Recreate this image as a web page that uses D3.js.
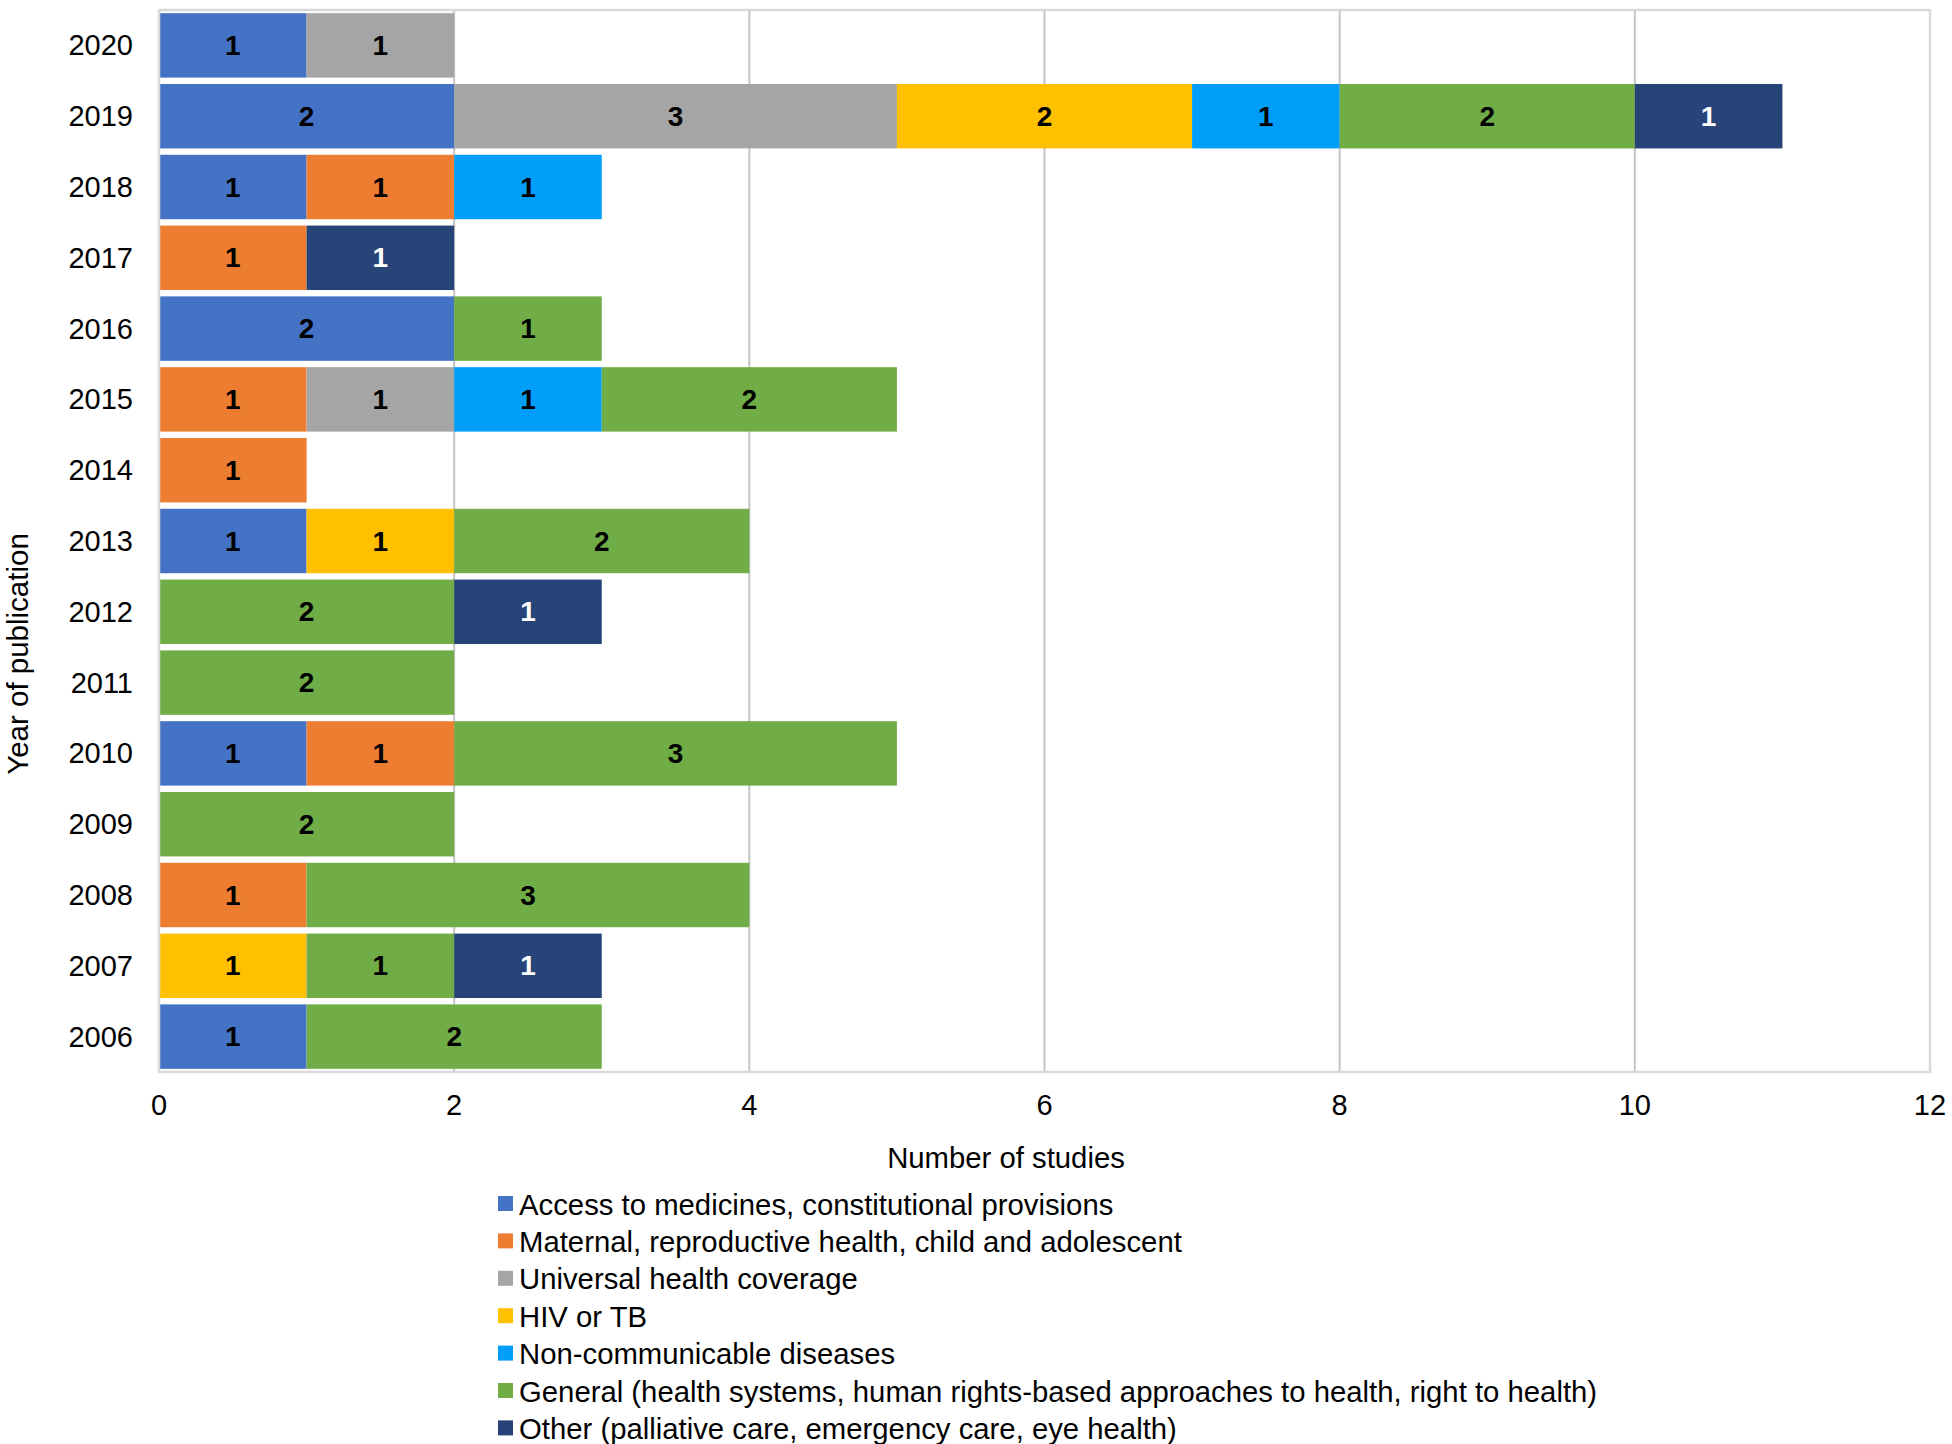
<!DOCTYPE html>
<html><head><meta charset="utf-8">
<script src="https://cdn.jsdelivr.net/npm/d3@7"></script>
<style>body{margin:0;background:#fff}svg{display:block}text{font-family:"Liberation Sans",Arial,sans-serif}</style>
</head><body>
<svg id="c" width="1952" height="1444"></svg>
<script>
const years = ["2020","2019","2018","2017","2016","2015","2014","2013","2012","2011","2010","2009","2008","2007","2006"];
const seriesNames = [
  "Access to medicines, constitutional provisions",
  "Maternal, reproductive health, child and adolescent",
  "Universal health coverage",
  "HIV or TB",
  "Non-communicable diseases",
  "General (health systems, human rights-based approaches to health, right to health)",
  "Other (palliative care, emergency care, eye health)"
];
const colors = ["#4472c4","#ed7d31","#a5a5a5","#ffc000","#009ef9","#70ad47","#264478"];
const labelColors = ["#000","#000","#000","#000","#000","#000","#fff"];
const access   = [1,2,1,0,2,0,0,1,0,0,1,0,0,0,1];
const maternal = [0,0,1,1,0,1,1,0,0,0,1,0,1,0,0];
const uhc      = [1,3,0,0,0,1,0,0,0,0,0,0,0,0,0];
const hivtb    = [0,2,0,0,0,0,0,1,0,0,0,0,0,1,0];
const ncd      = [0,1,1,0,0,1,0,0,0,0,0,0,0,0,0];
const general  = [0,2,0,0,1,2,0,2,2,2,3,2,3,1,2];
const other    = [0,1,0,1,0,0,0,0,1,0,0,0,0,1,0];
const xTicks = [0,2,4,6,8,10,12];

const seriesVals = [access, maternal, uhc, hivtb, ncd, general, other];
const table = years.map((y,i)=>{const o={year:y}; seriesNames.forEach((s,j)=>o[s]=seriesVals[j][i]); return o;});
const stack = d3.stack().keys(seriesNames)(table);

const svg = d3.select("#c");
const L=159, R=1930, T=10, B=1072;
const x = d3.scaleLinear().domain([0,12]).range([L,R]);
const y = d3.scaleBand().domain(years).range([T,B]).paddingInner(0.09).paddingOuter(0.045);

// gridlines
svg.append("g").selectAll("line").data(xTicks.filter(t=>t>0&&t<12)).join("line")
  .attr("x1",d=>x(d)).attr("x2",d=>x(d)).attr("y1",T).attr("y2",B)
  .attr("stroke","#c4c4c4").attr("stroke-width",2);

// bars
const g = svg.append("g");
stack.forEach((layer,si)=>{
  const lg = g.append("g");
  lg.selectAll("rect").data(layer.filter(d=>d[1]-d[0]>0)).join("rect")
    .attr("x",d=>x(d[0])).attr("width",d=>x(d[1])-x(d[0]))
    .attr("y",d=>y(d.data.year)).attr("height",y.bandwidth())
    .attr("fill",colors[si]);
  lg.selectAll("text").data(layer.filter(d=>d[1]-d[0]>0)).join("text")
    .attr("x",d=>(x(d[0])+x(d[1]))/2).attr("y",d=>y(d.data.year)+y.bandwidth()/2)
    .attr("text-anchor","middle").attr("dominant-baseline","central")
    .attr("font-size",28).attr("font-weight","bold").attr("fill",labelColors[si])
    .text(d=>d[1]-d[0]);
});

// frame
svg.append("rect").attr("x",L).attr("y",T).attr("width",R-L).attr("height",B-T)
  .attr("fill","none").attr("stroke","#d9d9d9").attr("stroke-width",2.5);

// y labels
svg.append("g").selectAll("text").data(years).join("text")
  .attr("x",133).attr("y",d=>y(d)+y.bandwidth()/2).attr("text-anchor","end")
  .attr("dominant-baseline","central").attr("font-size",29).attr("fill","#000").text(d=>d);

// x labels
svg.append("g").selectAll("text").data(xTicks).join("text")
  .attr("x",d=>x(d)).attr("y",1115).attr("text-anchor","middle")
  .attr("font-size",29).attr("fill","#000").text(d=>d);

svg.append("text").attr("x",1006).attr("y",1168).attr("text-anchor","middle")
  .attr("font-size",29.3).text("Number of studies");
svg.append("text").attr("transform","translate(28,654) rotate(-90)").attr("text-anchor","middle")
  .attr("font-size",29.5).text("Year of publication");

// legend
const lg = svg.append("g").selectAll("g").data(seriesNames).join("g")
  .attr("transform",(d,i)=>`translate(498,${1204+i*37.4})`);
lg.append("rect").attr("x",0).attr("y",-8).attr("width",15).attr("height",15).attr("fill",(d,i)=>colors[i]);
lg.append("text").attr("x",21).attr("y",0).attr("dominant-baseline","central")
  .attr("font-size",29.3).text(d=>d);
</script>
</body></html>
